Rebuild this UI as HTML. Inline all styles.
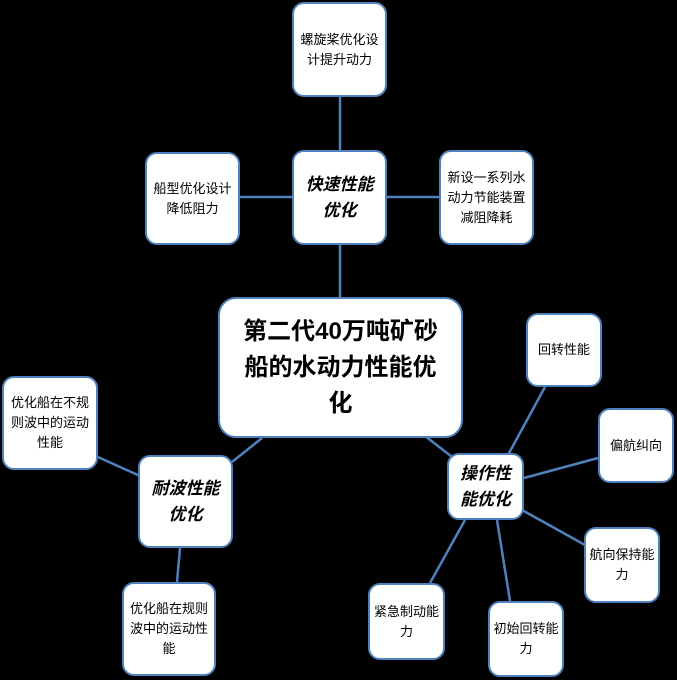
<!DOCTYPE html>
<html><head><meta charset="utf-8"><style>
body{margin:0;background:#000;width:677px;height:680px;position:relative;overflow:hidden;font-family:"Liberation Sans","Noto Sans CJK SC",sans-serif;}
.n{position:absolute;box-sizing:border-box;background:#fff;border:2px solid #4f81bd;border-radius:12px;display:flex;align-items:center;justify-content:center;text-align:center;font-size:13px;line-height:20px;color:#000;padding:4px;}
.s{padding:1px;}
.b{font-weight:bold;font-style:italic;font-size:17px;line-height:26px;}
svg{position:absolute;left:0;top:0;}
</style></head><body>
<svg width="677" height="680"><g stroke="#4f81bd" stroke-width="2.5">
<line x1="340" y1="97" x2="340" y2="150"/>
<line x1="240" y1="197" x2="292" y2="197"/>
<line x1="387" y1="197" x2="439" y2="197"/>
<line x1="340" y1="245" x2="340" y2="297"/>
<line x1="262" y1="438" x2="232" y2="462"/>
<line x1="98" y1="457" x2="140" y2="476"/>
<line x1="180" y1="548" x2="177" y2="582"/>
<line x1="425" y1="436" x2="456" y2="460"/>
<line x1="508" y1="455" x2="545" y2="387"/>
<line x1="524" y1="478" x2="598" y2="458"/>
<line x1="522" y1="510" x2="585" y2="545"/>
<line x1="497" y1="520" x2="510" y2="601"/>
<line x1="465" y1="520" x2="430" y2="583"/>
</g></svg>
<div class="n" style="left:292px;top:2px;width:95px;height:95px">螺旋桨优化设计提升动力</div>
<div class="n b" style="left:292px;top:150px;width:95px;height:95px">快速性能优化</div>
<div class="n" style="left:145px;top:152px;width:95px;height:93px">船型优化设计降低阻力</div>
<div class="n" style="left:439px;top:150px;width:95px;height:95px">新设一系列水动力节能装置减阻降耗</div>
<div class="n" style="left:218px;top:297px;width:245px;height:141px;font-weight:bold;font-size:24px;line-height:36px;border-radius:18px;padding:6px 14px">第二代40万吨矿砂船的水动力性能优化</div>
<div class="n s" style="left:526px;top:313px;width:76px;height:74px">回转性能</div>
<div class="n s" style="left:598px;top:408px;width:76px;height:75px">偏航纠向</div>
<div class="n b" style="left:447px;top:453px;width:77px;height:67px">操作性能优化</div>
<div class="n s" style="left:584px;top:527px;width:76px;height:76px">航向保持能力</div>
<div class="n s" style="left:488px;top:601px;width:76px;height:76px">初始回转能力</div>
<div class="n s" style="left:368px;top:583px;width:77px;height:77px">紧急制动能力</div>
<div class="n b" style="left:138px;top:455px;width:95px;height:93px">耐波性能优化</div>
<div class="n" style="left:2px;top:376px;width:96px;height:94px">优化船在不规则波中的运动性能</div>
<div class="n" style="left:122px;top:582px;width:94px;height:94px">优化船在规则波中的运动性能</div>
</body></html>
